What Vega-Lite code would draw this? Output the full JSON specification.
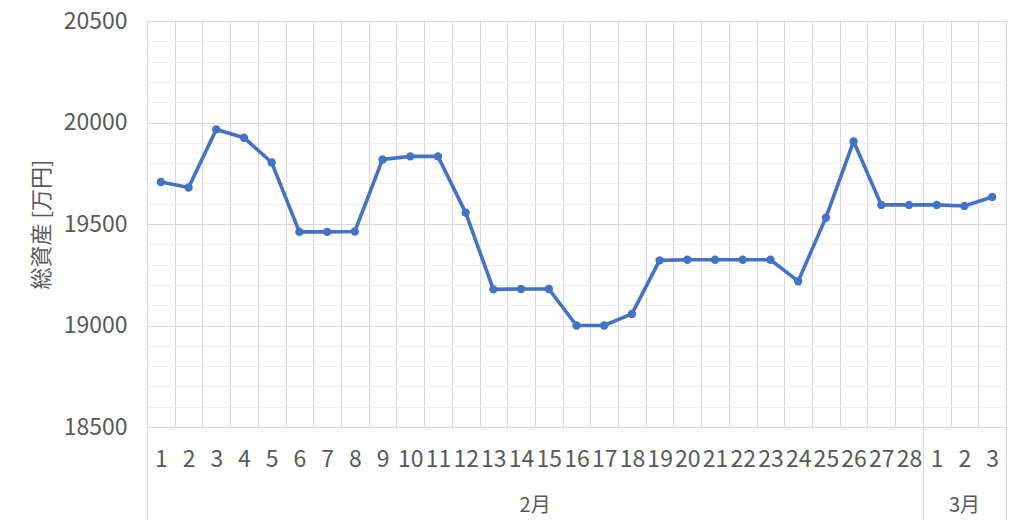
{
  "$schema": "https://vega.github.io/schema/vega-lite/v6.json",
  "width": 859,
  "height": 406,
  "autosize": {"type": "none"},
  "padding": {"left": 147, "top": 21, "right": 18, "bottom": 102},
  "background": "white",
  "config": {
    "view": {"stroke": null},
    "font": "Noto Sans CJK JP",
    "axis": {"labelOverlap": false},
    "axisY": {
      "labelOverlap": false,
      "labelFlush": false,
      "labelBound": false,
      "gridColor": {"condition": {"test": "datum.value % 500 === 0", "value": "#d9d9d9"}, "value": "#efefef"},
      "gridWidth": 1,
      "ticks": false,
      "domain": false,
      "labelFont": "Noto Sans CJK JP",
      "labelFontSize": 23,
      "labelColor": "#595959",
      "labelPadding": 20,
      "titleFont": "Noto Sans CJK JP",
      "titleFontSize": 22,
      "titleFontWeight": "normal",
      "titleColor": "#595959",
      "titlePadding": 10
    }
  },
  "data": {
    "values": [
      {"date": "F01", "month": "2月", "day": 1, "value": 19707},
      {"date": "F02", "month": "2月", "day": 2, "value": 19680},
      {"date": "F03", "month": "2月", "day": 3, "value": 19966},
      {"date": "F04", "month": "2月", "day": 4, "value": 19925},
      {"date": "F05", "month": "2月", "day": 5, "value": 19803},
      {"date": "F06", "month": "2月", "day": 6, "value": 19461},
      {"date": "F07", "month": "2月", "day": 7, "value": 19461},
      {"date": "F08", "month": "2月", "day": 8, "value": 19463},
      {"date": "F09", "month": "2月", "day": 9, "value": 19818},
      {"date": "F10", "month": "2月", "day": 10, "value": 19833},
      {"date": "F11", "month": "2月", "day": 11, "value": 19833},
      {"date": "F12", "month": "2月", "day": 12, "value": 19556},
      {"date": "F13", "month": "2月", "day": 13, "value": 19178},
      {"date": "F14", "month": "2月", "day": 14, "value": 19180},
      {"date": "F15", "month": "2月", "day": 15, "value": 19180},
      {"date": "F16", "month": "2月", "day": 16, "value": 19000},
      {"date": "F17", "month": "2月", "day": 17, "value": 19000},
      {"date": "F18", "month": "2月", "day": 18, "value": 19057},
      {"date": "F19", "month": "2月", "day": 19, "value": 19321},
      {"date": "F20", "month": "2月", "day": 20, "value": 19324},
      {"date": "F21", "month": "2月", "day": 21, "value": 19324},
      {"date": "F22", "month": "2月", "day": 22, "value": 19324},
      {"date": "F23", "month": "2月", "day": 23, "value": 19324},
      {"date": "F24", "month": "2月", "day": 24, "value": 19218},
      {"date": "F25", "month": "2月", "day": 25, "value": 19531},
      {"date": "F26", "month": "2月", "day": 26, "value": 19907},
      {"date": "F27", "month": "2月", "day": 27, "value": 19594},
      {"date": "F28", "month": "2月", "day": 28, "value": 19594},
      {"date": "M01", "month": "3月", "day": 1, "value": 19594},
      {"date": "M02", "month": "3月", "day": 2, "value": 19589},
      {"date": "M03", "month": "3月", "day": 3, "value": 19633}
    ]
  },
  "resolve": {"axis": {"x": "independent"}},
  "layer": [
    {
      "mark": {"type": "line", "color": "#4472C4", "strokeWidth": 3.6},
      "encoding": {
        "x": {
          "field": "date",
          "type": "ordinal",
          "sort": null,
          "scale": {"type": "band", "paddingInner": 0, "paddingOuter": 0},
          "axis": {
            "title": null,
            "orient": "bottom",
            "grid": true,
            "gridColor": "#d9d9d9",
            "gridWidth": 1,
            "tickBand": "extent",
            "ticks": false,
            "domain": false,
            "labelAngle": 0,
            "labelOverlap": false,
            "labelBound": false,
            "labelFlush": false,
            "labelExpr": "datum.extra ? '' : toNumber(substring(datum.value, 1))",
            "labelFont": "Noto Sans CJK JP",
            "labelFontSize": 23,
            "labelColor": "#595959",
            "labelPadding": 21
          }
        },
        "y": {
          "field": "value",
          "type": "quantitative",
          "scale": {"domain": [18500, 20500], "nice": false, "zero": false},
          "axis": {
            "title": "総資産 [万円]",
            "values": [18500,18600,18700,18800,18900,19000,19100,19200,19300,19400,19500,19600,19700,19800,19900,20000,20100,20200,20300,20400,20500],
            "format": "d",
            "labelExpr": "datum.value % 500 === 0 ? datum.label : ''",
            "labelOverlap": false,
            "grid": true
          }
        }
      }
    },
    {
      "mark": {"type": "point", "filled": true, "color": "#4472C4", "size": 70, "opacity": 1},
      "encoding": {
        "x": {
          "field": "date",
          "type": "ordinal",
          "sort": null,
          "axis": {
            "title": null,
            "orient": "bottom",
            "grid": false,
            "ticks": false,
            "domain": false,
            "labelAngle": 0,
            "labelOverlap": false,
            "labelBound": false,
            "labelFlush": false,
            "labelExpr": "datum.value === 'F14' ? '2月' : datum.value === 'M02' ? '3月' : ''",
            "labelOffset": {"condition": {"test": "datum.value === 'F14'", "value": 14}, "value": 0},
            "labelFont": "Noto Sans CJK JP",
            "labelFontSize": 20,
            "labelColor": "#595959",
            "labelPadding": 68
          }
        },
        "y": {
          "field": "value",
          "type": "quantitative",
          "axis": {
            "title": "総資産 [万円]",
            "values": [18500,18600,18700,18800,18900,19000,19100,19200,19300,19400,19500,19600,19700,19800,19900,20000,20100,20200,20300,20400,20500],
            "format": "d",
            "labelExpr": "datum.value % 500 === 0 ? datum.label : ''",
            "labelOverlap": false,
            "grid": true
          }
        }
      }
    },
    {
      "mark": {"type": "line", "strokeOpacity": 0},
      "encoding": {
        "x": {
          "field": "date",
          "type": "ordinal",
          "sort": null,
          "axis": {
            "title": null,
            "orient": "bottom",
            "grid": false,
            "labels": false,
            "domain": false,
            "ticks": true,
            "tickBand": "extent",
            "tickSize": 93,
            "tickColor": "#d9d9d9",
            "tickWidth": 1,
            "tickOpacity": {"condition": {"test": "datum.extra || datum.value === 'F28' || datum.value === 'M03'", "value": 1}, "value": 0}
          }
        },
        "y": {
          "field": "value",
          "type": "quantitative",
          "axis": {
            "title": "総資産 [万円]",
            "values": [18500,18600,18700,18800,18900,19000,19100,19200,19300,19400,19500,19600,19700,19800,19900,20000,20100,20200,20300,20400,20500],
            "format": "d",
            "labelExpr": "datum.value % 500 === 0 ? datum.label : ''",
            "labelOverlap": false,
            "grid": true
          }
        }
      }
    }
  ]
}
